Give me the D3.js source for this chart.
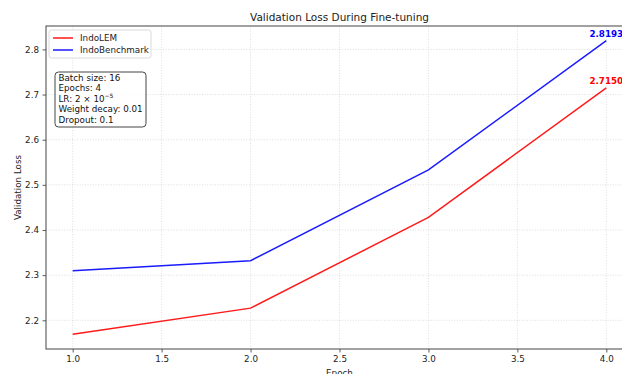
<!DOCTYPE html>
<html>
<head>
<meta charset="utf-8">
<script src="https://cdn.jsdelivr.net/npm/d3@7"></script>
<style>
  body { margin: 0; background: #fff; }
  svg { display: block; font-family: "DejaVu Sans", sans-serif; }
</style>
</head>
<body>
<div id="chart"></div>
<script>
// data
var epochs = [1, 2, 3, 4];
var indoLEM = [2.169, 2.227, 2.428, 2.7150];
var indoBenchmark = [2.310, 2.332, 2.533, 2.8193];
var seriesNames = ['IndoLEM', 'IndoBenchmark'];
var seriesColors = ['#ff1a1a', '#1a1aff'];
var labelColors = ['#ff0000', '#0000ff'];
var xTicks = [1.0, 1.5, 2.0, 2.5, 3.0, 3.5, 4.0];
var yTicks = [2.2, 2.3, 2.4, 2.5, 2.6, 2.7, 2.8];
var infoLines = ['Batch size: 16', 'Epochs: 4', 'LR: 2 \u00d7 10', 'Weight decay: 0.01', 'Dropout: 0.1'];

var width = 622, height = 374;
var fs = 8.75; // small text size
// plot area (right side runs past the window, like the original)
var margin = {left: 46, top: 26, right: -11, bottom: 25};
var plotW = width - margin.left - margin.right;
var plotH = height - margin.top - margin.bottom;

var svg = d3.select('#chart').append('svg')
    .attr('width', width)
    .attr('height', height);

// 5% padding like matplotlib
var xPad = (d3.max(epochs) - d3.min(epochs)) * 0.05;
var allY = indoLEM.concat(indoBenchmark);
var yPad = (d3.max(allY) - d3.min(allY)) * 0.05;

var x = d3.scaleLinear()
    .domain([d3.min(epochs) - xPad, d3.max(epochs) + xPad])
    .range([margin.left, margin.left + plotW]);
var y = d3.scaleLinear()
    .domain([d3.min(allY) - yPad, d3.max(allY) + yPad])
    .range([margin.top + plotH, margin.top]);

// grid
var grid = svg.append('g').attr('class', 'grid');
grid.selectAll('.gx').data(xTicks).enter().append('line')
    .attr('x1', function (d) { return x(d); })
    .attr('x2', function (d) { return x(d); })
    .attr('y1', margin.top).attr('y2', margin.top + plotH)
    .attr('stroke', '#b0b0b0').attr('stroke-opacity', 0.5)
    .attr('stroke-width', 0.8).attr('stroke-dasharray', '1,1.6');
grid.selectAll('.gy').data(yTicks).enter().append('line')
    .attr('y1', function (d) { return y(d); })
    .attr('y2', function (d) { return y(d); })
    .attr('x1', margin.left).attr('x2', margin.left + plotW)
    .attr('stroke', '#b0b0b0').attr('stroke-opacity', 0.5)
    .attr('stroke-width', 0.8).attr('stroke-dasharray', '1,1.6');

// axes
var xAxis = svg.append('g')
    .attr('transform', 'translate(0,' + (margin.top + plotH) + ')')
    .call(d3.axisBottom(x).tickValues(xTicks).tickFormat(d3.format('.1f'))
        .tickSizeInner(3.5).tickSizeOuter(0).tickPadding(3.5));
var yAxis = svg.append('g')
    .attr('transform', 'translate(' + margin.left + ',0)')
    .call(d3.axisLeft(y).tickValues(yTicks).tickFormat(d3.format('.1f'))
        .tickSizeInner(3.5).tickSizeOuter(0).tickPadding(3.5));

[xAxis, yAxis].forEach(function (ax) {
    ax.selectAll('.domain').remove();
    ax.selectAll('line').attr('stroke', '#333').attr('stroke-width', 0.8);
    ax.selectAll('text').attr('font-size', fs).attr('fill', '#222')
        .attr('font-family', '"DejaVu Sans", sans-serif');
});

// spines
svg.append('rect')
    .attr('x', margin.left).attr('y', margin.top)
    .attr('width', plotW).attr('height', plotH)
    .attr('fill', 'none').attr('stroke', '#444').attr('stroke-width', 1);

// lines
var line = d3.line()
    .x(function (d) { return x(d[0]); })
    .y(function (d) { return y(d[1]); });

var series = [indoLEM, indoBenchmark];
series.forEach(function (vals, i) {
    svg.append('path')
        .datum(d3.zip(epochs, vals))
        .attr('d', line)
        .attr('fill', 'none')
        .attr('stroke', seriesColors[i])
        .attr('stroke-width', 1.5);

    // final value label
    var last = vals[vals.length - 1];
    svg.append('text')
        .attr('x', x(epochs[epochs.length - 1]))
        .attr('y', y(last) - 4)
        .attr('text-anchor', 'middle')
        .attr('font-size', fs)
        .attr('font-weight', 'bold')
        .attr('fill', labelColors[i])
        .text(last.toFixed(4));
});

// title and labels
svg.append('text')
    .attr('x', margin.left + plotW / 2).attr('y', 20.5)
    .attr('text-anchor', 'middle')
    .attr('font-size', 10.5).attr('fill', '#222')
    .text('Validation Loss During Fine-tuning');

svg.append('text')
    .attr('x', margin.left + plotW / 2).attr('y', 375.5)
    .attr('text-anchor', 'middle')
    .attr('font-size', fs).attr('fill', '#222')
    .text('Epoch');

svg.append('text')
    .attr('transform', 'translate(20.5,' + (margin.top + plotH / 2) + ') rotate(-90)')
    .attr('text-anchor', 'middle')
    .attr('font-size', fs).attr('fill', '#222')
    .text('Validation Loss');

// legend
var legend = svg.append('g').attr('transform', 'translate(49,30)');
legend.append('rect')
    .attr('width', 102).attr('height', 28).attr('rx', 2.5)
    .attr('fill', '#fff').attr('fill-opacity', 0.8)
    .attr('stroke', '#d0d0d0').attr('stroke-width', 0.8);
seriesNames.forEach(function (name, i) {
    var yy = 8 + i * 12;
    legend.append('line')
        .attr('x1', 4).attr('x2', 24).attr('y1', yy).attr('y2', yy)
        .attr('stroke', seriesColors[i]).attr('stroke-width', 1.5);
    legend.append('text')
        .attr('x', 31).attr('y', yy + 3.2)
        .attr('font-size', fs).attr('fill', '#222')
        .text(name);
});

// info box
var info = svg.append('g').attr('transform', 'translate(55,72)');
info.append('rect')
    .attr('width', 91).attr('height', 55).attr('rx', 3.5)
    .attr('fill', '#fff').attr('fill-opacity', 0.8)
    .attr('stroke', '#444').attr('stroke-width', 1);
infoLines.forEach(function (t, i) {
    var txt = info.append('text')
        .attr('x', 3.5).attr('y', 9 + i * 10.4)
        .attr('font-size', fs).attr('fill', '#111')
        .text(t);
    if (i === 2) {
        txt.append('tspan')
            .attr('dy', -3.5)
            .attr('font-size', 6)
            .text('\u22125');
    }
});
</script>
</body>
</html>
